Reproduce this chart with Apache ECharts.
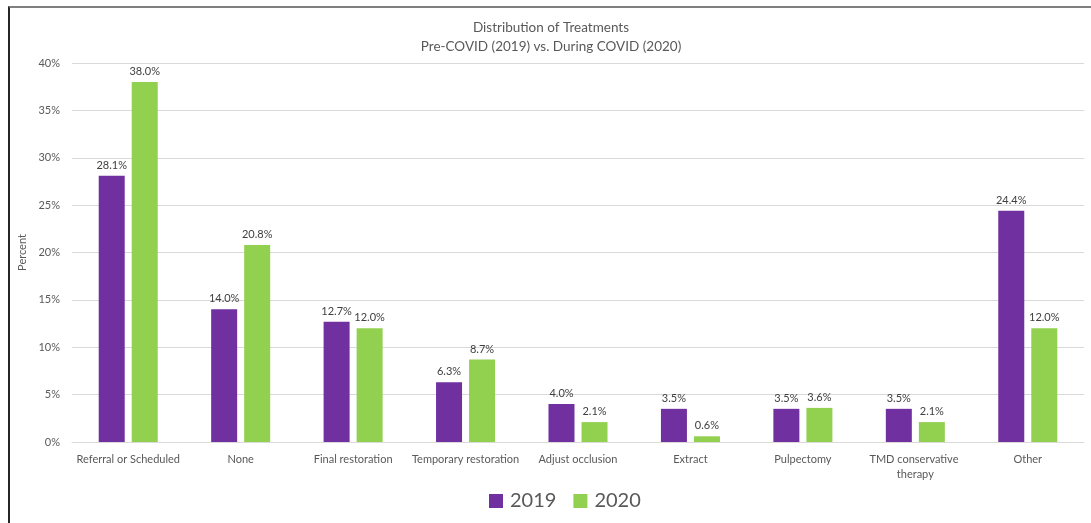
<!DOCTYPE html>
<html>
<head>
<meta charset="utf-8">
<script src="https://cdn.jsdelivr.net/npm/echarts@6/dist/echarts.min.js"></script>
<style>
html,body{margin:0;padding:0;background:#fff;}
#chart{width:1091px;height:523px;}
#frame{position:absolute;left:8px;top:6px;width:1083px;height:517px;border-top:2px solid #7f7f7f;border-left:2px solid #262626;pointer-events:none;box-sizing:border-box;}
</style>
</head>
<body>
<div id="chart"></div>
<div id="frame"></div>
<script>
const categories = ["Referral or Scheduled","None","Final restoration","Temporary restoration","Adjust occlusion","Extract","Pulpectomy","TMD conservative therapy","Other"];
const values2019 = [28.1,14.0,12.7,6.3,4.0,3.5,3.5,3.5,24.4];
const values2020 = [38.0,20.8,12.0,8.7,2.1,0.6,3.6,2.1,12.0];
const seriesNames = ["2019","2020"];

const FONT = "Lato, 'Liberation Sans', sans-serif";
const chart = echarts.init(document.getElementById('chart'));
const labelCfg = {
  show: true, position: 'top', distance: 5,
  formatter: p => p.value.toFixed(1) + '%',
  color: '#404040', fontSize: 11, fontFamily: FONT
};
chart.setOption({
  animation: false,
  title: {
    text: 'Distribution of Treatments\nPre-COVID (2019) vs. During COVID (2020)',
    left: 546, top: 13, textAlign: 'center',
    textStyle: {fontSize: 13.5, fontWeight: 'normal', color: '#595959', fontFamily: FONT, lineHeight: 19, align: 'center'}
  },
  legend: {
    data: seriesNames, bottom: 7, left: 484,
    itemWidth: 14, itemHeight: 14, itemGap: 17,
    icon: 'rect',
    textStyle: {fontSize: 20, color: '#595959', fontFamily: FONT, padding: [0,0,0,2]}
  },
  grid: {left: 72, right: 7, top: 63, bottom: 81},
  xAxis: {
    type: 'category', data: categories,
    axisLine: {lineStyle: {color: '#d9d9d9'}},
    axisTick: {show: false},
    axisLabel: {color: '#595959', fontSize: 11, fontFamily: FONT, interval: 0, margin: 10, width: 112, overflow: 'break', lineHeight: 15}
  },
  yAxis: {
    type: 'value', min: 0, max: 40, interval: 5,
    name: 'Percent', nameLocation: 'middle', nameGap: 44, nameRotate: 90,
    nameTextStyle: {color: '#595959', fontSize: 11, fontFamily: FONT},
    axisLine: {show: false}, axisTick: {show: false},
    axisLabel: {formatter: '{value}%', color: '#595959', fontSize: 11, fontFamily: FONT, margin: 12},
    splitLine: {lineStyle: {color: '#d9d9d9'}}
  },
  series: [
    {name: seriesNames[0], type: 'bar', data: values2019, barWidth: 26, barGap: '27%',
     itemStyle: {color: '#7030A0'}, label: labelCfg},
    {name: seriesNames[1], type: 'bar', data: values2020, barWidth: 26,
     itemStyle: {color: '#92D050'}, label: labelCfg}
  ]
});
</script>
</body>
</html>
